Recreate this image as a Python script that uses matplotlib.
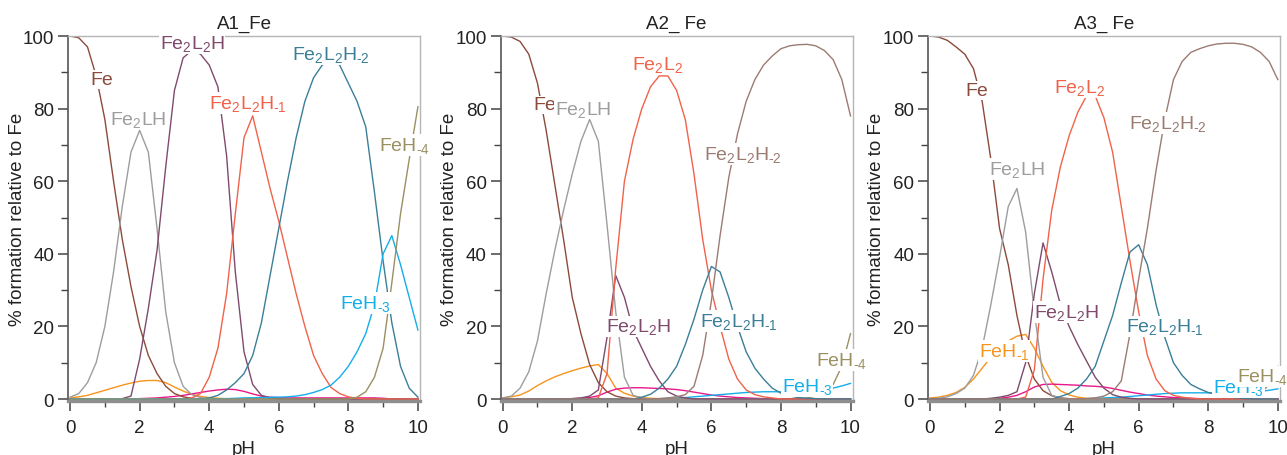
import numpy as np
import matplotlib
matplotlib.use("Agg")
import matplotlib.pyplot as plt
from matplotlib.ticker import MultipleLocator

plt.rcParams['font.family'] = ['Liberation Sans', 'DejaVu Sans']
plt.rcParams['mathtext.default'] = 'regular'

# ---------------- data ----------------
ph = np.arange(0, 10.001, 0.25)

# Panel A1_Fe
a1_fe = [100, 99.5, 97, 89, 77, 60, 44, 31, 20, 12, 7, 3.5, 1.5, 0.6, 0.2] + [0] * 26
a1_fe2lh = [0.5, 1.5, 4.5, 10, 20, 35, 53, 68, 74, 68, 47, 24, 10, 3.5, 1.2, 0.4, 0.1] + [0] * 24
a1_feh1 = [0.3, 0.6, 1, 1.7, 2.4, 3.1, 3.8, 4.4, 4.9, 5.1, 5.1, 4.5, 3.3, 2.2, 1.3, 0.7, 0.4, 0.2, 0.1] + [0] * 22
a1_fe2l2h = [0] * 6 + [0.1, 0.8, 11, 25, 41, 64, 85, 94, 96, 95, 92, 86, 67, 35, 13, 4, 1, 0.3] + [0] * 17
a1_fe2l2h1 = [0] * 14 + [0.3, 1.5, 6, 14, 29, 51, 72, 78, 68, 58, 49, 39, 29, 20, 12, 7, 3.2, 1.5, 0.6, 0.2] + [0] * 7
a1_fe2l2h2 = [0] * 16 + [0.3, 1, 2.5, 4.5, 7, 12, 21, 34, 47, 60, 72, 82, 88.5, 92, 93.2, 92, 87, 82, 75, 57, 38, 21, 9, 3, 0.5]
a1_feh3 = [0] * 18 + [0.1, 0.2, 0.3, 0.35, 0.4, 0.45, 0.5, 0.6, 0.8, 1.2, 1.8, 2.6, 3.8, 6, 9, 13, 18, 26, 40, 45, 37, 28, 19]
a1_feh4 = [0] * 33 + [0.5, 2, 6, 14, 32, 51, 66, 80.5]
a1_mag = [0] * 8 + [0.1, 0.2, 0.3, 0.5, 0.7, 1, 1.4, 1.8, 2.2, 2.5, 2.7, 2.6, 2.1, 1.4, 0.8, 0.5, 0.4] + [0.3] * 11 + [0.2] + [0] * 4

# Panel A2_Fe
a2_fe = [100, 99.7, 98.5, 95, 87, 74, 59, 44, 28, 18, 9.5, 4.5, 2, 0.8, 0.3, 0.1] + [0] * 25
a2_fe2lh = [0.3, 0.8, 3, 7.5, 16, 29, 41, 52, 62, 71, 77, 71, 48, 24, 6, 1, 0.3] + [0] * 24
a2_feh1 = [0.3, 0.6, 1.1, 2.2, 3.7, 5, 6.1, 7, 7.8, 8.5, 9.1, 9.5, 7, 3, 1.6, 0.8, 0.4, 0.2, 0.1] + [0] * 22
a2_fe2l2h = [0] * 8 + [0.1, 0.3, 0.8, 2.5, 17, 34, 28, 19, 14, 9, 5, 2, 0.8, 0.3] + [0] * 19
a2_fe2l2 = [0] * 11 + [0.3, 7, 36, 60, 71.6, 80, 86, 89, 89, 85, 77, 62, 44, 30, 20, 11, 5.5, 2.5, 1.2, 0.6, 0.3] + [0] * 9
a2_fe2l2h1 = [0] * 16 + [0.5, 1.3, 3, 5.5, 9, 15, 22, 30, 36.5, 35, 28, 20, 13, 8.5, 5.5, 3, 1.6, 0.8, 0.4, 0.2, 0.1] + [0] * 4
a2_fe2l2h2 = [0] * 18 + [0.1, 0.3, 0.6, 1.2, 3.5, 12, 27, 45, 61, 73, 82, 88, 92, 94.5, 96.5, 97.3, 97.6, 97.7, 97.3, 96, 93.5, 88, 78]
a2_feh3 = [0] * 18 + [0.1, 0.2, 0.3, 0.4, 0.6, 0.8, 1.0, 1.2, 1.4, 1.6, 1.8, 1.9, 2.0, 2.0, 2.0, 2.0, 2.0, 2.1, 2.3, 2.6, 3.0, 3.6, 4.3]
a2_feh4 = [0] * 34 + [0.1, 0.3, 0.8, 2, 4, 9, 18]
a2_mag = [0] * 8 + [0.1, 0.2, 0.4, 0.9, 1.9, 2.7, 3.0, 3.1, 3.1, 3.0, 2.9, 2.8, 2.6, 2.3, 1.9, 1.5, 1.1, 0.8, 0.6, 0.4, 0.3, 0.2, 0.1] + [0] * 10

# Panel A3_Fe
a3_fe = [100, 99.7, 98.8, 97, 95, 91, 82, 66, 47, 37, 23, 12, 5.5, 2.3, 0.9, 0.3, 0.1] + [0] * 24
a3_fe2lh = [0.1, 0.2, 0.6, 1.5, 3, 6.5, 14, 26, 39, 53, 58, 46, 24, 6, 1, 0.3] + [0] * 25
a3_feh1 = [0.3, 0.5, 1, 1.8, 3.2, 5.5, 8.5, 11.5, 14, 16, 17.3, 17.8, 14, 9, 4.6, 2.3, 1.1, 0.5, 0.2, 0.1] + [0] * 21
a3_fe2l2h = [0] * 7 + [0.2, 0.5, 1, 2, 10, 29, 43, 35, 26, 20, 15, 10.5, 6, 3, 1.2, 0.5, 0.2] + [0] * 17
a3_fe2l2 = [0] * 11 + [0.5, 8, 33, 52, 64, 72.5, 79, 83.5, 83.5, 77.5, 68, 53, 38, 24, 12, 5.5, 2.3, 1, 0.5, 0.2] + [0] * 10
a3_fe2l2h1 = [0] * 15 + [0.7, 1.5, 3, 5.5, 9, 16, 23, 32, 40.5, 42.5, 37, 26, 17, 10, 6.5, 4, 2.8, 1.8, 1.2, 0.7, 0.4, 0.2] + [0] * 4
a3_fe2l2h2 = [0] * 18 + [0.1, 0.3, 0.8, 2, 5, 18, 33, 47, 63, 77, 88, 93, 95.5, 96.5, 97.3, 97.8, 98, 98, 97.7, 97, 95.5, 93, 88]
a3_feh3 = [0] * 18 + [0.1, 0.2, 0.3, 0.4, 0.5, 0.7, 0.9, 1.1, 1.3, 1.5, 1.6, 1.7, 1.7, 1.7, 1.7, 1.7, 1.7, 1.7, 1.8, 1.9, 2.1, 2.4, 2.8]
a3_feh4 = [0] * 36 + [0.2, 0.5, 1.5, 4, 9]
a3_mag = [0] * 8 + [0.2, 0.5, 1, 2, 3.3, 4, 4.1, 4, 3.9, 3.8, 3.6, 3.5, 3.3, 2.9, 2.4, 1.9, 1.5, 1.1, 0.8, 0.6, 0.4, 0.3, 0.2, 0.1] + [0] * 9

titles = ["A1_Fe", "A2_ Fe", "A3_ Fe"]
x_ticks = [0, 2, 4, 6, 8, 10]
y_ticks = [0, 20, 40, 60, 80, 100]

# ---------------- colours ----------------
C_FE = '#8c4a3c'
C_FE2LH = '#9d9d9d'
C_FE2L2H = '#7f4a6c'
C_RED = '#f1624a'
C_TEAL = '#3b7e98'
C_BRGRAY = '#9b7b72'
C_CYAN = '#14aee9'
C_OLIVE = '#9a9062'
C_ORANGE = '#f7941d'
C_MAG = '#e8178a'

HY = '\u2010'
L_FE = 'Fe'
L_FE2LH = 'Fe$_2$LH'
L_FE2L2H = 'Fe$_2$L$_2$H'
L_FE2L2 = 'Fe$_2$L$_2$'
L_H1 = 'Fe$_2$L$_2$H$_{' + HY + '1}$'
L_H2 = 'Fe$_2$L$_2$H$_{' + HY + '2}$'
L_FEH1 = 'FeH$_{' + HY + '1}$'
L_FEH3 = 'FeH$_{' + HY + '3}$'
L_FEH4 = 'FeH$_{' + HY + '4}$'

panels = [
    dict(series=[(a1_feh1, C_ORANGE), (a1_mag, C_MAG), (a1_fe, C_FE), (a1_fe2lh, C_FE2LH),
                 (a1_fe2l2h, C_FE2L2H), (a1_fe2l2h1, C_RED), (a1_fe2l2h2, C_TEAL),
                 (a1_feh3, C_CYAN), (a1_feh4, C_OLIVE)],
         labels=[(L_FE, 0.92, 88, C_FE), (L_FE2LH, 1.95, 77, C_FE2LH), (L_FE2L2H, 3.5, 98, C_FE2L2H),
                 (L_H1, 5.1, 81.5, C_RED), (L_H2, 7.5, 95, C_TEAL), (L_FEH4, 9.6, 70, C_OLIVE),
                 (L_FEH3, 8.5, 26.5, C_CYAN)]),
    dict(series=[(a2_feh1, C_ORANGE), (a2_mag, C_MAG), (a2_feh3, C_CYAN), (a2_feh4, C_OLIVE),
                 (a2_fe, C_FE), (a2_fe2lh, C_FE2LH), (a2_fe2l2h, C_FE2L2H), (a2_fe2l2, C_RED),
                 (a2_fe2l2h1, C_TEAL), (a2_fe2l2h2, C_BRGRAY)],
         labels=[(L_FE, 1.2, 81, C_FE), (L_FE2LH, 2.3, 80, C_FE2LH), (L_FE2L2, 4.45, 92.3, C_RED),
                 (L_H2, 6.9, 67.5, C_BRGRAY), (L_FE2L2H, 3.9, 20, C_FE2L2H), (L_H1, 6.78, 21.5, C_TEAL),
                 (L_FEH4, 9.75, 10.7, C_OLIVE), (L_FEH3, 8.75, 3.6, C_CYAN)]),
    dict(series=[(a3_feh1, C_ORANGE), (a3_mag, C_MAG), (a3_feh3, C_CYAN), (a3_feh4, C_OLIVE),
                 (a3_fe, C_FE), (a3_fe2lh, C_FE2LH), (a3_fe2l2h, C_FE2L2H), (a3_fe2l2, C_RED),
                 (a3_fe2l2h1, C_TEAL), (a3_fe2l2h2, C_BRGRAY)],
         labels=[(L_FE, 1.35, 85, C_FE), (L_FE2L2, 4.3, 86, C_RED), (L_H2, 6.85, 76, C_BRGRAY),
                 (L_FE2LH, 2.5, 63.4, C_FE2LH), (L_FE2L2H, 3.92, 24, C_FE2L2H), (L_H1, 6.76, 20, C_TEAL),
                 (L_FEH1, 2.13, 13.2, C_ORANGE), (L_FEH3, 8.87, 3.3, C_CYAN), (L_FEH4, 9.55, 6.2, C_OLIVE)]),
]

W, H = 1287, 456
fig = plt.figure(figsize=(W / 100, H / 100), dpi=100)
lefts = [68, 500.6, 927.9]
ax_w = 352
bottom_px, top_px = 402, 37

for k, p in enumerate(panels):
    ax = fig.add_axes([lefts[k] / W, (H - bottom_px) / H, ax_w / W, (bottom_px - top_px) / H])
    for vals, col in p['series']:
        ax.plot(ph, vals, color=col, lw=1.0, solid_joinstyle='round', zorder=2)
    for txt, x, y, col in p['labels']:
        ax.text(x, y, txt, color=col, fontsize=14, ha='center', va='center', zorder=5,
                clip_on=False,
                bbox=dict(facecolor='white', edgecolor='none', pad=0.5))
    ax.set_xlim(-0.06, 10.06)
    ax.set_ylim(-0.55, 100)
    ax.set_xticks(x_ticks)
    ax.set_yticks(y_ticks)
    ax.xaxis.set_minor_locator(MultipleLocator(1))
    ax.yaxis.set_minor_locator(MultipleLocator(10))
    ax.tick_params(axis='both', which='major', direction='out', length=7, width=1.1,
                   color='#444444', labelsize=13.5, labelcolor='#222222', pad=3)
    ax.tick_params(axis='both', which='minor', direction='out', length=5, width=1.0, color='#444444')
    ax.tick_params(axis='x', which='minor', length=4)
    ax.tick_params(axis='x', which='major', pad=6)
    for s in ['top', 'right']:
        ax.spines[s].set_color('#b5b5b5')
        ax.spines[s].set_linewidth(1.0)
    ax.spines['left'].set_color('#555555')
    ax.spines['left'].set_linewidth(1.2)
    ax.spines['bottom'].set_color('#8e8e8e')
    ax.spines['bottom'].set_linewidth(2.4)
    ax.set_title(titles[k], fontsize=13.5, color='#222222', pad=6)
    ax.set_xlabel('pH', fontsize=13.5, color='#222222', labelpad=3)
    ax.set_ylabel('% formation relative to Fe', fontsize=13.5, color='#222222', labelpad=-2)

fig.savefig('out.png', dpi=100)
